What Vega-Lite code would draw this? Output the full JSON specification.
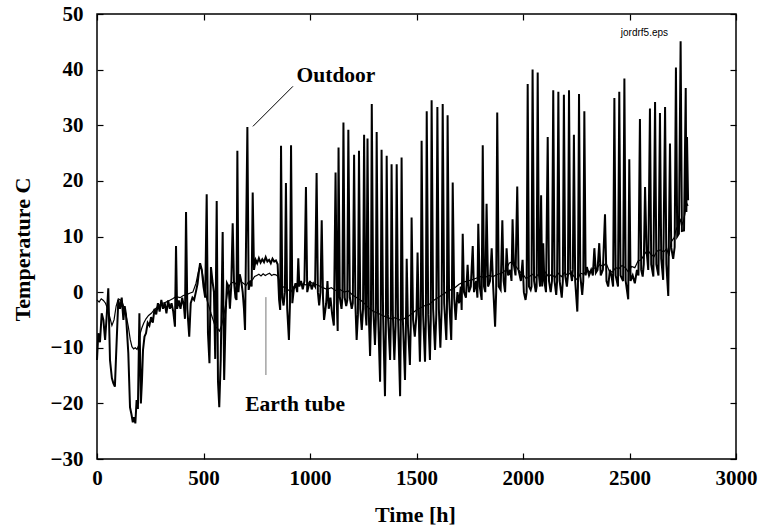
{
  "$schema": "https://vega.github.io/schema/vega-lite/v6.json",
  "width": 639,
  "height": 445,
  "autosize": {"type": "none"},
  "padding": {"left": 97, "top": 14, "right": 23, "bottom": 68},
  "background": "white",
  "config": {
    "view": {"stroke": "black", "strokeWidth": 1.5},
    "axis": {
      "domain": false,
      "grid": false,
      "labelFlush": false,
      "labelOverlap": false,
      "tickColor": "black",
      "tickWidth": 1.2,
      "tickSize": -6,
      "labelFont": "Liberation Serif",
      "labelFontWeight": "bold",
      "labelFontSize": 21,
      "labelColor": "black",
      "titleFont": "Liberation Serif",
      "titleFontWeight": "bold",
      "titleFontSize": 22,
      "titleColor": "black"
    }
  },
  "datasets": {
    "out": [
      {"h":0,"t":-12.2},{"h":6,"t":-7.4},{"h":14,"t":-9},{"h":22,"t":-3.8},{"h":30,"t":-5},{"h":38,"t":-8.6},{"h":46,"t":-4},{"h":53,"t":0.7},{"h":61,"t":-12.2},{"h":70,"t":-15.5},{"h":77,"t":-16.4},{"h":84,"t":-17},{"h":89,"t":-12},{"h":100,"t":-1.4},{"h":108,"t":-3},{"h":116,"t":-1},{"h":124,"t":-5},{"h":130,"t":-2.5},{"h":136,"t":-4},{"h":147,"t":-11},{"h":155,"t":-20.7},{"h":162,"t":-22},{"h":168,"t":-23.4},{"h":174,"t":-22.5},{"h":180,"t":-23.6},{"h":186,"t":-19.4},{"h":192,"t":-21},{"h":199,"t":-3.8},{"h":206,"t":-20},{"h":211,"t":-16},{"h":216,"t":-10.4},{"h":223,"t":-8},{"h":230,"t":-7.4},{"h":238,"t":-5.5},{"h":246,"t":-6},{"h":254,"t":-4.5},{"h":262,"t":-5.5},{"h":270,"t":-3},{"h":278,"t":-4},{"h":286,"t":-2},{"h":294,"t":-3.5},{"h":302,"t":-1.4},{"h":310,"t":-3},{"h":318,"t":-2},{"h":326,"t":-3.8},{"h":334,"t":-1.5},{"h":342,"t":-3},{"h":350,"t":-2},{"h":358,"t":-3.5},{"h":366,"t":-6.2},{"h":371,"t":8.3},{"h":376,"t":-3},{"h":384,"t":-1.5},{"h":392,"t":-3},{"h":400,"t":-1},{"h":408,"t":-2.5},{"h":413,"t":-4.8},{"h":418,"t":14.4},{"h":424,"t":-3},{"h":433,"t":-8},{"h":440,"t":-2},{"h":448,"t":-1},{"h":456,"t":-1.4},{"h":464,"t":0},{"h":472,"t":1.5},{"h":478,"t":3.5},{"h":484,"t":5.2},{"h":492,"t":4},{"h":500,"t":1},{"h":508,"t":-1},{"h":515,"t":17.6},{"h":521,"t":-7.4},{"h":528,"t":-12.8},{"h":535,"t":4.5},{"h":542,"t":2},{"h":549,"t":0},{"h":555,"t":-12},{"h":562,"t":16.4},{"h":568,"t":-16},{"h":574,"t":-20.7},{"h":581,"t":-12},{"h":590,"t":10.8},{"h":597,"t":-15.8},{"h":604,"t":-4},{"h":610,"t":1.6},{"h":618,"t":1},{"h":624,"t":-3},{"h":630,"t":1},{"h":637,"t":12.4},{"h":643,"t":2},{"h":650,"t":-1},{"h":655,"t":-1.4},{"h":659,"t":25.4},{"h":664,"t":0},{"h":670,"t":3.2},{"h":677,"t":2},{"h":684,"t":0},{"h":690,"t":-3},{"h":695,"t":-6.8},{"h":706,"t":29.7},{"h":712,"t":0.4},{"h":720,"t":2},{"h":726,"t":1},{"h":731,"t":17.9},{"h":737,"t":4},
      {"h":745,"t":5.8},{"h":752,"t":5.2},{"h":760,"t":6.1},{"h":768,"t":5.3},{"h":776,"t":5.9},{"h":784,"t":5.4},{"h":792,"t":6.3},{"h":800,"t":5.5},{"h":808,"t":5.8},{"h":816,"t":5.2},{"h":824,"t":6},{"h":832,"t":5.5},{"h":840,"t":5.7},{"h":848,"t":5},
      {"h":855,"t":-1.4},{"h":860,"t":-3.2},{"h":864,"t":26.3},{"h":870,"t":-1},{"h":876,"t":-2.4},{"h":882,"t":0},{"h":887,"t":19.6},{"h":893,"t":-3},{"h":901,"t":-8.6},{"h":906,"t":-2},{"h":911,"t":26.4},{"h":917,"t":-2},{"h":924,"t":0.5},{"h":932,"t":1.6},{"h":940,"t":0},{"h":945,"t":6.1},{"h":950,"t":1},{"h":958,"t":2},{"h":966,"t":0.5},{"h":974,"t":2},{"h":981,"t":18.9},{"h":987,"t":0},{"h":993,"t":1},{"h":1000,"t":2},{"h":1008,"t":0.5},{"h":1016,"t":1.5},{"h":1024,"t":1},{"h":1031,"t":21.4},{"h":1037,"t":0},{"h":1043,"t":-2.4},{"h":1049,"t":0},{"h":1055,"t":12.9},{"h":1061,"t":-1},{"h":1066,"t":-5},
      {"h":1076,"t":-2},{"h":1082,"t":2},{"h":1088,"t":-3},{"h":1096,"t":-1},{"h":1104,"t":-4},{"h":1112,"t":-6},{"h":1120,"t":21.5},{"h":1126,"t":-2},{"h":1130,"t":-7},{"h":1134,"t":26},{"h":1140,"t":-1},{"h":1148,"t":-3},{"h":1152,"t":-1},{"h":1157,"t":30.5},{"h":1163,"t":-1},{"h":1170,"t":-2.5},{"h":1175,"t":-1.5},{"h":1180,"t":29.2},{"h":1187,"t":-1},{"h":1196,"t":-3},{"h":1201,"t":-2},{"h":1207,"t":24.7},{"h":1213,"t":-2},{"h":1219,"t":-8.6},{"h":1225,"t":-4},{"h":1230,"t":25.4},{"h":1236,"t":-3},{"h":1243,"t":-6.8},{"h":1249,"t":-3},{"h":1254,"t":28.3},{"h":1260,"t":-3},{"h":1265,"t":-6},{"h":1270,"t":27.6},{"h":1276,"t":-4},{"h":1282,"t":-11.5},{"h":1286,"t":-5},{"h":1290,"t":33.8},{"h":1297,"t":-3},{"h":1305,"t":-9.5},{"h":1309,"t":-5},{"h":1313,"t":28.8},{"h":1319,"t":-3},{"h":1329,"t":-16.1},{"h":1332,"t":-6},{"h":1336,"t":25.6},{"h":1343,"t":-4},{"h":1352,"t":-18.7},{"h":1356,"t":-7},{"h":1360,"t":24.5},{"h":1366,"t":-4},{"h":1376,"t":-12.2},{"h":1379,"t":-6},{"h":1383,"t":23},{"h":1389,"t":-4},{"h":1396,"t":-12.2},{"h":1402,"t":-6},{"h":1407,"t":23},{"h":1413,"t":-4},{"h":1423,"t":-18.7},{"h":1426,"t":-7},{"h":1430,"t":24.2},{"h":1436,"t":-5},{"h":1446,"t":-15.8},{"h":1450,"t":-7},{"h":1454,"t":6},{"h":1460,"t":-6},{"h":1469,"t":-13.1},{"h":1473,"t":-6},{"h":1477,"t":13.4},{"h":1484,"t":-5},{"h":1492,"t":-8},{"h":1500,"t":-4},{"h":1505,"t":7.1},{"h":1511,"t":-5},{"h":1516,"t":-12.5},{"h":1520,"t":-5},{"h":1524,"t":27.2},{"h":1531,"t":-4},{"h":1540,"t":-12.5},{"h":1544,"t":-5},{"h":1548,"t":32.5},{"h":1555,"t":-4},{"h":1563,"t":-12.2},{"h":1567,"t":-5},{"h":1571,"t":34.5},{"h":1578,"t":-3},{"h":1587,"t":-10.4},{"h":1593,"t":-4},{"h":1598,"t":33.3},{"h":1605,"t":-3},{"h":1612,"t":-10},{"h":1618,"t":-3},{"h":1623,"t":33.8},{"h":1630,"t":-2},{"h":1640,"t":-8.6},{"h":1643,"t":-3},{"h":1646,"t":31.8},{"h":1653,"t":-1},{"h":1663,"t":-8.6},{"h":1666,"t":-2},{"h":1670,"t":19.7},{"h":1677,"t":-1},{"h":1684,"t":-5},{"h":1692,"t":0},{"h":1700,"t":-2},{"h":1708,"t":1},{"h":1712,"t":-3.2},{"h":1717,"t":10.5},{"h":1723,"t":0},{"h":1732,"t":-1},{"h":1740,"t":4.9},{"h":1746,"t":0},{"h":1755,"t":1},{"h":1764,"t":8.3},{"h":1770,"t":0},{"h":1780,"t":2},{"h":1786,"t":-1},{"h":1790,"t":12.3},{"h":1797,"t":1},{"h":1806,"t":-1.4},{"h":1811,"t":26.4},{"h":1817,"t":1},{"h":1823,"t":0},{"h":1829,"t":15.9},{"h":1836,"t":1},{"h":1845,"t":2},{"h":1853,"t":7.9},{"h":1860,"t":1},{"h":1869,"t":-6.2},{"h":1874,"t":0},{"h":1879,"t":32.3},{"h":1886,"t":1},{"h":1895,"t":0.4},{"h":1903,"t":12.9},{"h":1909,"t":2},{"h":1916,"t":0},{"h":1923,"t":7.9},{"h":1930,"t":3},{"h":1940,"t":4},{"h":1946,"t":2},{"h":1951,"t":13.1},{"h":1957,"t":5},{"h":1965,"t":3},{"h":1973,"t":19},{"h":1979,"t":4},{"h":1990,"t":2},{"h":1998,"t":5.8},{"h":2004,"t":0},{"h":2012,"t":-1.4},{"h":2017,"t":0},{"h":2022,"t":37.4},{"h":2028,"t":1},{"h":2036,"t":0.4},{"h":2040,"t":1},{"h":2045,"t":40},{"h":2052,"t":2},{"h":2060,"t":0},{"h":2064,"t":1},{"h":2069,"t":39.5},{"h":2075,"t":3},{"h":2080,"t":1},{"h":2085,"t":17.4},{"h":2090,"t":1},{"h":2095,"t":8.8},{"h":2100,"t":2},{"h":2108,"t":0},{"h":2116,"t":27.9},{"h":2122,"t":2},{"h":2130,"t":0},{"h":2136,"t":2},{"h":2142,"t":36.3},{"h":2148,"t":2},{"h":2156,"t":-0.5},{"h":2160,"t":2},{"h":2166,"t":36},{"h":2172,"t":2},{"h":2182,"t":-1},{"h":2187,"t":2},{"h":2192,"t":35.5},{"h":2198,"t":3},{"h":2206,"t":1},{"h":2211,"t":3},{"h":2216,"t":36.3},{"h":2222,"t":4},{"h":2230,"t":2},{"h":2234,"t":4},{"h":2239,"t":28.3},{"h":2245,"t":2},{"h":2255,"t":-3.5},{"h":2258,"t":1},{"h":2263,"t":35.6},{"h":2269,"t":3},{"h":2278,"t":-0.5},{"h":2283,"t":2},{"h":2288,"t":32.5},{"h":2294,"t":3},{"h":2300,"t":4.5},{"h":2310,"t":3},{"h":2320,"t":4},{"h":2328,"t":3},{"h":2335,"t":7.9},{"h":2342,"t":3.5},{"h":2350,"t":4},{"h":2358,"t":8.8},{"h":2365,"t":3},{"h":2375,"t":4},{"h":2385,"t":14},{"h":2392,"t":2},{"h":2400,"t":1},{"h":2408,"t":4},{"h":2415,"t":3},{"h":2423,"t":1},{"h":2429,"t":34.9},{"h":2435,"t":3},{"h":2446,"t":1},{"h":2452,"t":36},{"h":2458,"t":3},{"h":2470,"t":2},{"h":2476,"t":38.4},{"h":2482,"t":2},{"h":2494,"t":-1.3},{"h":2499,"t":23.9},{"h":2505,"t":2},{"h":2515,"t":3},{"h":2525,"t":1.6},{"h":2535,"t":4},{"h":2542,"t":3},{"h":2549,"t":31.1},{"h":2555,"t":4},{"h":2562,"t":2.8},{"h":2567,"t":5},{"h":2573,"t":18.9},{"h":2580,"t":7.6},{"h":2588,"t":4},{"h":2596,"t":33},{"h":2602,"t":5},{"h":2612,"t":2.8},{"h":2620,"t":34.2},{"h":2626,"t":5},{"h":2636,"t":3},{"h":2643,"t":32.2},{"h":2649,"t":6},{"h":2658,"t":2.2},{"h":2667,"t":33.3},{"h":2673,"t":5},{"h":2682,"t":-0.7},{"h":2690,"t":26.7},{"h":2696,"t":8},{"h":2705,"t":6},{"h":2712,"t":8.1},{"h":2718,"t":40.4},{"h":2724,"t":10},{"h":2732,"t":10.5},{"h":2740,"t":45.1},{"h":2746,"t":11},{"h":2756,"t":11.1},{"h":2764,"t":36.7},{"h":2767,"t":14.4},{"h":2770,"t":27.9},{"h":2775,"t":16.5}
    ],
    "tube": [
      {"h":0,"t":-1.4},{"h":10,"t":-1.8},{"h":20,"t":-1.2},{"h":30,"t":-1.5},{"h":40,"t":-2},{"h":50,"t":-3},{"h":60,"t":-4.5},{"h":70,"t":-6},{"h":80,"t":-5},{"h":90,"t":-2.5},{"h":100,"t":-1.2},{"h":110,"t":-1.4},{"h":120,"t":-2},{"h":131,"t":-3.2},{"h":140,"t":-4.8},{"h":147,"t":-6.2},{"h":156,"t":-8.5},{"h":164,"t":-9.8},{"h":172,"t":-10.2},{"h":180,"t":-10},{"h":188,"t":-10.3},{"h":196,"t":-9.5},{"h":203,"t":-7.4},{"h":210,"t":-6.5},{"h":219,"t":-5.6},{"h":230,"t":-4.8},{"h":242,"t":-4.2},{"h":255,"t":-3.8},{"h":268,"t":-3.2},{"h":280,"t":-2.8},{"h":293,"t":-2.3},{"h":310,"t":-2},{"h":324,"t":-1.8},{"h":340,"t":-1.5},{"h":355,"t":-1.2},{"h":371,"t":-0.8},{"h":390,"t":-1},{"h":405,"t":-0.6},{"h":418,"t":-0.5},{"h":435,"t":-0.2},{"h":450,"t":0},{"h":465,"t":1.6},{"h":475,"t":3.5},{"h":484,"t":4.9},{"h":492,"t":4},{"h":500,"t":2.2},{"h":508,"t":0.5},{"h":516,"t":-1.4},{"h":525,"t":-2.5},{"h":535,"t":-3.8},{"h":545,"t":-5},{"h":555,"t":-6.2},{"h":565,"t":-6.5},{"h":575,"t":-7},{"h":585,"t":-6},{"h":592,"t":-4.8},{"h":600,"t":-3.2},{"h":607,"t":-1.5},{"h":615,"t":0.4},{"h":622,"t":1.2},{"h":630,"t":1.6},{"h":640,"t":1.8},{"h":650,"t":1.5},{"h":660,"t":2},{"h":670,"t":2.2},{"h":680,"t":1.8},{"h":690,"t":1.5},{"h":700,"t":1.2},{"h":710,"t":1.8},{"h":720,"t":2},{"h":730,"t":2.2},{"h":740,"t":2.8},{"h":750,"t":3},{"h":760,"t":3.2},{"h":770,"t":2.9},{"h":780,"t":3.3},{"h":790,"t":3},{"h":800,"t":3.2},{"h":810,"t":3.4},{"h":820,"t":3},{"h":830,"t":3.2},{"h":840,"t":3.1},{"h":850,"t":2.8},{"h":858,"t":1.5},{"h":866,"t":0.7},{"h":880,"t":1},{"h":895,"t":0.5},{"h":910,"t":0},{"h":925,"t":1},{"h":940,"t":1.2},{"h":960,"t":1.5},{"h":980,"t":1.3},{"h":1000,"t":1.8},{"h":1020,"t":1.5},{"h":1040,"t":1.2},{"h":1060,"t":0.8},{"h":1080,"t":0.5},{"h":1100,"t":0.8},{"h":1120,"t":0.3},{"h":1140,"t":0.5},{"h":1160,"t":0},{"h":1180,"t":0.2},{"h":1200,"t":-0.5},{"h":1220,"t":-1},{"h":1240,"t":-1.5},{"h":1260,"t":-2.2},{"h":1280,"t":-3},{"h":1300,"t":-3.5},{"h":1320,"t":-3.8},{"h":1340,"t":-4.2},{"h":1360,"t":-4.5},{"h":1380,"t":-4.8},{"h":1400,"t":-4.6},{"h":1420,"t":-5},{"h":1440,"t":-4.8},{"h":1460,"t":-4.4},{"h":1480,"t":-3.8},{"h":1500,"t":-3.2},{"h":1520,"t":-2.8},{"h":1540,"t":-2.4},{"h":1560,"t":-2.2},{"h":1580,"t":-1.5},{"h":1600,"t":-1},{"h":1620,"t":-0.5},{"h":1640,"t":0},{"h":1660,"t":0.4},{"h":1680,"t":0.8},{"h":1700,"t":1.4},{"h":1720,"t":1.8},{"h":1740,"t":2},{"h":1760,"t":2.2},{"h":1780,"t":2.5},{"h":1800,"t":2.8},{"h":1820,"t":2.6},{"h":1840,"t":3},{"h":1860,"t":2.8},{"h":1880,"t":3.2},{"h":1900,"t":3.4},{"h":1920,"t":4},{"h":1935,"t":5.2},{"h":1950,"t":5.5},{"h":1960,"t":5},{"h":1975,"t":4.2},{"h":1990,"t":3.5},{"h":2000,"t":3.2},{"h":2015,"t":2.4},{"h":2030,"t":2.8},{"h":2045,"t":3.2},{"h":2060,"t":2.6},{"h":2075,"t":3.4},{"h":2090,"t":3},{"h":2105,"t":3.6},{"h":2120,"t":2.8},{"h":2135,"t":3.2},{"h":2150,"t":2.6},{"h":2165,"t":3.4},{"h":2180,"t":2.8},{"h":2195,"t":3.5},{"h":2210,"t":3},{"h":2225,"t":3.6},{"h":2240,"t":2.8},{"h":2255,"t":2.2},{"h":2270,"t":3.4},{"h":2285,"t":3.2},{"h":2300,"t":4},{"h":2315,"t":3.6},{"h":2330,"t":4.4},{"h":2345,"t":4.2},{"h":2360,"t":5},{"h":2375,"t":4.6},{"h":2390,"t":5.2},{"h":2405,"t":3.8},{"h":2420,"t":3.6},{"h":2435,"t":4.4},{"h":2450,"t":4.2},{"h":2465,"t":4.8},{"h":2480,"t":4.4},{"h":2495,"t":3.6},{"h":2510,"t":4.6},{"h":2525,"t":4.4},{"h":2540,"t":5.6},{"h":2555,"t":5.8},{"h":2570,"t":6.8},{"h":2585,"t":7.6},{"h":2600,"t":6.8},{"h":2615,"t":6.4},{"h":2630,"t":7.4},{"h":2645,"t":7.6},{"h":2660,"t":7.2},{"h":2675,"t":7.8},{"h":2685,"t":6.5},{"h":2695,"t":9},{"h":2710,"t":9.8},{"h":2720,"t":11.5},{"h":2730,"t":11},{"h":2740,"t":13},{"h":2750,"t":12.2},{"h":2760,"t":14},{"h":2768,"t":16},{"h":2775,"t":15.5}
    ],
    "leaders": [
      {"h":732,"t":29.8,"h2":920,"t2":37,"c":"black"},
      {"h":793,"t":-0.9,"h2":793,"t2":-14.9,"c":"#777777"}
    ],
    "labels": [
      {"h":1122,"t":37.75,"txt":"Outdoor"},
      {"h":930,"t":-21.4,"txt":"Earth tube"}
    ],
    "note": [
      {"h":2570,"t":46.0,"txt":"jordrf5.eps"}
    ]
  },
  "resolve": {"axis": {"x": "independent", "y": "independent"}},
  "layer": [
    {
      "data": {"name": "tube"},
      "mark": {"type": "line", "color": "black", "strokeWidth": 1.2},
      "encoding": {
        "x": {"field": "h", "type": "quantitative",
              "scale": {"domain": [0, 3000], "nice": false},
              "axis": {"orient": "bottom", "values": [0,500,1000,1500,2000,2500,3000], "format": "d", "labelPadding": 14, "title": "Time [h]", "titleX": 318, "titleY": 62, "titleBaseline": "alphabetic", "titleAnchor": null}},
        "y": {"field": "t", "type": "quantitative",
              "scale": {"domain": [-30, 50], "nice": false, "zero": false},
              "axis": {"orient": "left", "values": [-30,-20,-10,0,10,20,30,40,50], "format": "d", "labelPadding": 20, "title": "Temperature C", "titleX": -68, "titleY": 235, "titleBaseline": "alphabetic", "titleAngle": -90, "titleAnchor": null}}
      }
    },
    {
      "data": {"name": "out"},
      "mark": {"type": "line", "color": "black", "strokeWidth": 2},
      "encoding": {
        "x": {"field": "h", "type": "quantitative",
              "axis": {"orient": "top", "values": [0,500,1000,1500,2000,2500,3000], "labels": false, "title": null}},
        "y": {"field": "t", "type": "quantitative",
              "axis": {"orient": "right", "values": [-30,-20,-10,0,10,20,30,40,50], "labels": false, "title": null}}
      }
    },
    {
      "data": {"name": "leaders"},
      "mark": {"type": "rule", "strokeWidth": 1},
      "encoding": {
        "x": {"field": "h", "type": "quantitative", "axis": null},
        "y": {"field": "t", "type": "quantitative", "axis": null},
        "x2": {"field": "h2"},
        "y2": {"field": "t2"},
        "color": {"field": "c", "type": "nominal", "scale": null}
      }
    },
    {
      "data": {"name": "labels"},
      "mark": {"type": "text", "font": "Liberation Serif", "fontWeight": "bold", "fontSize": 21.5, "color": "black", "align": "center", "baseline": "alphabetic"},
      "encoding": {
        "x": {"field": "h", "type": "quantitative", "axis": null},
        "y": {"field": "t", "type": "quantitative", "axis": null},
        "text": {"field": "txt"}
      }
    },
    {
      "data": {"name": "note"},
      "mark": {"type": "text", "font": "Liberation Sans", "fontSize": 10, "color": "black", "align": "center", "baseline": "alphabetic"},
      "encoding": {
        "x": {"field": "h", "type": "quantitative", "axis": null},
        "y": {"field": "t", "type": "quantitative", "axis": null},
        "text": {"field": "txt"}
      }
    }
  ]
}
